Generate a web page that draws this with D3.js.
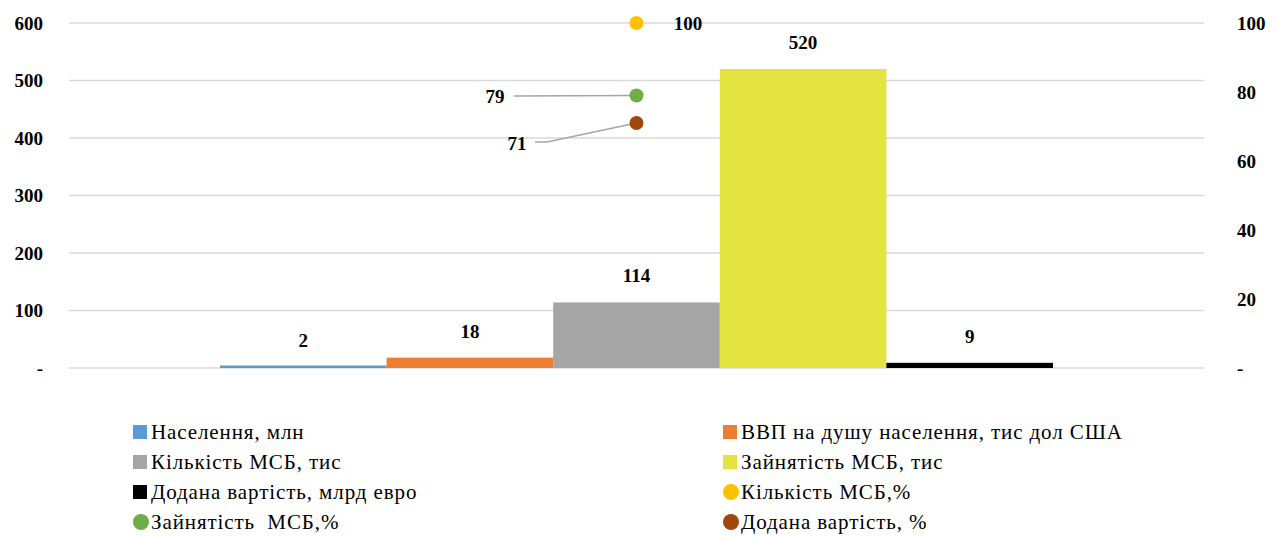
<!DOCTYPE html>
<html>
<head>
<meta charset="utf-8">
<script src="https://cdn.jsdelivr.net/npm/d3@7"></script>
<style>
  body { margin: 0; background: #fff; }
</style>
</head>
<body>
<div id="chart"></div>
<script>
const barNames = ["Населення, млн", "ВВП на душу населення, тис дол США", "Кількість МСБ, тис", "Зайнятість МСБ, тис", "Додана вартість, млрд евро"];
const barValues = [2, 18, 114, 520, 9];
const barColors = ["#5b9bd5", "#ed7d31", "#a5a5a5", "#e4e441", "#000000"];

const dotNames = ["Кількість МСБ,%", "Зайнятість  МСБ,%", "Додана вартість, %"];
const dotValues = [100, 79, 71];
const dotColors = ["#ffc000", "#70ad47", "#9e480e"];

const leftTicks = [0, 100, 200, 300, 400, 500, 600];
const rightTicks = [0, 20, 40, 60, 80, 100];

const W = 1284, H = 537;
const plot = { left: 69, right: 1204, top: 23, bottom: 368 };
const serif = "'Liberation Serif', 'Times New Roman', 'DejaVu Serif', serif";

const svg = d3.select("#chart").append("svg")
  .attr("width", W)
  .attr("height", H);

const yL = d3.scaleLinear().domain([0, 600]).range([plot.bottom, plot.top]);
const yR = d3.scaleLinear().domain([0, 100]).range([plot.bottom, plot.top]);
const x = d3.scaleBand().domain(barNames).range([plot.left + 151, plot.right - 151]).padding(0);

// gridlines
svg.append("g").selectAll("line")
  .data(leftTicks)
  .enter().append("line")
  .attr("x1", plot.left).attr("x2", plot.right)
  .attr("y1", d => yL(d)).attr("y2", d => yL(d))
  .style("stroke", "#d9d9d9").style("stroke-width", 1.5);

// left axis
const fmt = d => d === 0 ? "-" : d;
svg.append("g").attr("transform", `translate(43,0)`)
  .attr("font-family", serif)
  .call(d3.axisLeft(yL).tickValues(leftTicks).tickSize(0).tickPadding(0).tickFormat(fmt))
  .call(g => g.select(".domain").remove())
  .selectAll("text")
  .attr("font-family", serif)
  .style("font-size", "19px").style("font-weight", "bold").style("fill", "#000");

// right axis
svg.append("g").attr("transform", `translate(1237,0)`)
  .call(d3.axisRight(yR).tickValues(rightTicks).tickSize(0).tickPadding(0).tickFormat(fmt))
  .call(g => g.select(".domain").remove())
  .selectAll("text")
  .attr("font-family", serif)
  .style("font-size", "19px").style("font-weight", "bold").style("fill", "#000");

// bars
svg.append("g").selectAll("rect")
  .data(barValues)
  .enter().append("rect")
  .attr("x", (d, i) => x(barNames[i]))
  .attr("width", x.bandwidth())
  .attr("y", d => Math.min(yL(d), plot.bottom - 2.5))
  .attr("height", d => Math.max(plot.bottom - yL(d), 2.5))
  .style("fill", (d, i) => barColors[i]);

svg.append("g").selectAll("text")
  .data(barValues)
  .enter().append("text")
  .attr("x", (d, i) => x(barNames[i]) + x.bandwidth() / 2)
  .attr("y", d => yL(d) - 20)
  .attr("text-anchor", "middle")
  .attr("font-family", serif)
  .style("font-size", "19px").style("font-weight", "bold")
  .text(d => d);

// percentage dots, placed over the middle bar
const cx = x(barNames[2]) + x.bandwidth() / 2;

// leader lines for 79 and 71
const leader = d3.line();
svg.append("path")
  .attr("d", leader([[514, 96], [cx, yR(dotValues[1])]]))
  .style("fill", "none").style("stroke", "#a5a5a5").style("stroke-width", 1.5);
svg.append("path")
  .attr("d", leader([[535, 142], [547, 142], [cx, yR(dotValues[2])]]))
  .style("fill", "none").style("stroke", "#a5a5a5").style("stroke-width", 1.5);

svg.append("g").selectAll("circle")
  .data(dotValues)
  .enter().append("circle")
  .attr("cx", cx)
  .attr("cy", d => yR(d))
  .attr("r", 7)
  .style("fill", (d, i) => dotColors[i]);

const dotLabelPos = [[688, 30], [495, 103], [517, 150]];
svg.append("g").selectAll("text")
  .data(dotValues)
  .enter().append("text")
  .attr("x", (d, i) => dotLabelPos[i][0])
  .attr("y", (d, i) => dotLabelPos[i][1])
  .attr("text-anchor", "middle")
  .attr("font-family", serif)
  .style("font-size", "19px").style("font-weight", "bold")
  .text(d => d);

// legend
const legendItems = [];
for (let i = 0; i < barNames.length; i++) legendItems.push({ name: barNames[i], color: barColors[i], shape: "rect" });
for (let i = 0; i < dotNames.length; i++) legendItems.push({ name: dotNames[i], color: dotColors[i], shape: "circle" });

const legend = svg.append("g").selectAll("g")
  .data(legendItems)
  .enter().append("g")
  .attr("transform", (d, i) => `translate(${i % 2 === 0 ? 133 : 723},${432 + Math.floor(i / 2) * 30})`);

legend.filter(d => d.shape === "rect").append("rect")
  .attr("x", 0).attr("y", -7).attr("width", 14).attr("height", 14)
  .style("fill", d => d.color);
legend.filter(d => d.shape === "circle").append("circle")
  .attr("cx", 8).attr("cy", 0).attr("r", 8)
  .style("fill", d => d.color);
legend.append("text")
  .attr("x", 18).attr("y", 7)
  .attr("font-family", serif)
  .style("font-size", "21px").style("fill", "#000")
  .style("letter-spacing", "0.9px")
  .style("white-space", "pre")
  .text(d => d.name);
</script>
</body>
</html>
